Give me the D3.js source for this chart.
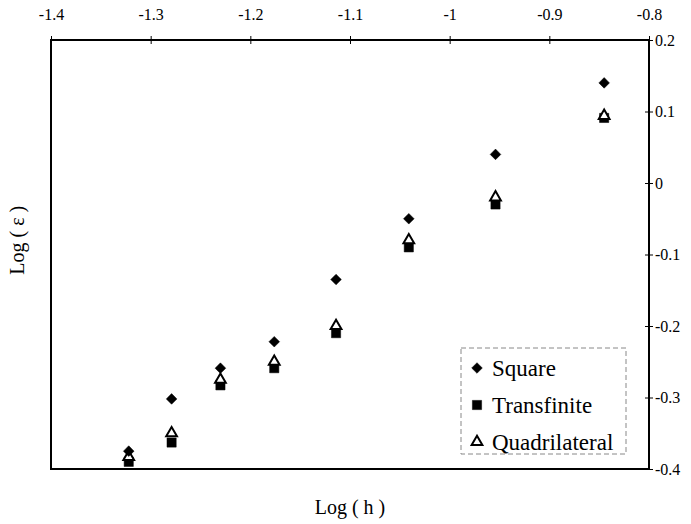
<!DOCTYPE html>
<meta charset="utf-8">
<style>
    body { margin: 0; background: #fff; }
    text { font-family: "Liberation Serif", "Times New Roman", serif; fill: #000; }
</style>
<body>
<div id="chart"></div>
<script src="https://d3js.org/d3.v7.min.js"></script>
<script>
    // log(h) for h = 1/21 ... 1/7
    var logH = [-1.322, -1.279, -1.230, -1.176, -1.114, -1.041, -0.954, -0.845];
    var square = [-0.375, -0.302, -0.259, -0.222, -0.135, -0.050, 0.040, 0.140];
    var transfinite = [-0.390, -0.363, -0.283, -0.259, -0.210, -0.090, -0.030, 0.091];
    var quadrilateral = [-0.383, -0.350, -0.275, -0.250, -0.200, -0.080, -0.020, 0.094];
    var xTicks = [-1.4, -1.3, -1.2, -1.1, -1, -0.9, -0.8];
    var yTicks = [-0.4, -0.3, -0.2, -0.1, 0, 0.1, 0.2];
    var seriesNames = ["Square", "Transfinite", "Quadrilateral"];

    var width = 691,
        height = 524,
        margin = {top: 40, right: 42, bottom: 55, left: 51};
    var serif = "'Liberation Serif', 'Times New Roman', serif";

    var svg = d3.select("#chart").append("svg")
        .attr("width", width)
        .attr("height", height);

    var x = d3.scaleLinear().domain([-1.4, -0.8]).range([margin.left, width - margin.right]);
    var y = d3.scaleLinear().domain([-0.4, 0.2]).range([height - margin.bottom, margin.top]);

    // frame
    svg.append("rect")
        .attr("x", x(-1.4))
        .attr("y", y(0.2))
        .attr("width", x(-0.8) - x(-1.4))
        .attr("height", y(-0.4) - y(0.2))
        .attr("fill", "none")
        .attr("stroke", "#000")
        .attr("stroke-width", 2);

    function fmt(d) { return String(+d.toFixed(1)); }

    // top axis
    var xAxis = svg.append("g")
        .attr("transform", "translate(0," + y(0.2) + ")")
        .call(d3.axisTop(x).tickValues(xTicks).tickSizeOuter(0).tickFormat(fmt));
    xAxis.attr("font-family", serif).attr("font-size", 16);
    xAxis.select(".domain").remove();
    xAxis.selectAll(".tick line").attr("y2", 4).attr("y1", -4).attr("stroke", "#000");
    xAxis.selectAll(".tick text").attr("y", -20);

    // right axis
    var yAxis = svg.append("g")
        .attr("transform", "translate(" + x(-0.8) + ",0)")
        .call(d3.axisRight(y).tickValues(yTicks).tickSizeOuter(0).tickFormat(fmt));
    yAxis.attr("font-family", serif).attr("font-size", 16);
    yAxis.select(".domain").remove();
    yAxis.selectAll(".tick line").attr("x1", -4).attr("x2", 4).attr("stroke", "#000");
    yAxis.selectAll(".tick text").attr("x", 6);

    // axis titles
    svg.append("text")
        .attr("x", (x(-1.4) + x(-0.8)) / 2)
        .attr("y", 514)
        .attr("text-anchor", "middle")
        .attr("font-family", serif)
        .style("font-size", "20px")
        .text("Log ( h )");

    svg.append("text")
        .attr("transform", "translate(24," + y(-0.08) + ") rotate(-90)")
        .attr("text-anchor", "middle")
        .attr("font-family", serif)
        .style("font-size", "20px")
        .text("Log ( \u03b5 )");

    var sym = {
        Square: d3.symbol().type(d3.symbolDiamond2).size(72),
        Transfinite: d3.symbol().type(d3.symbolSquare).size(85),
        Quadrilateral: d3.symbol().type(d3.symbolTriangle).size(50)
    };

    function drawSeries(vals, name, fill) {
        svg.append("g").selectAll("path")
            .data(vals)
            .enter().append("path")
            .attr("d", sym[name])
            .attr("transform", function (d, i) {
                return "translate(" + x(logH[i]) + "," + y(d) + ")";
            })
            .attr("fill", fill)
            .attr("stroke", "#000")
            .attr("stroke-width", name === "Quadrilateral" ? 2 : 0.5);
    }
    drawSeries(transfinite, "Transfinite", "#000");
    drawSeries(quadrilateral, "Quadrilateral", "#fff");
    drawSeries(square, "Square", "#000");

    // legend
    var legend = svg.append("g");
    legend.append("rect")
        .attr("x", 461)
        .attr("y", 348)
        .attr("width", 165)
        .attr("height", 106)
        .attr("fill", "#fff")
        .attr("stroke", "#888")
        .attr("stroke-width", 1)
        .attr("stroke-dasharray", "5,3");

    var item = legend.selectAll(".item")
        .data(seriesNames)
        .enter().append("g")
        .attr("transform", function (d, i) { return "translate(477," + (368 + i * 37) + ")"; });
    item.append("path")
        .attr("d", function (d) { return sym[d](); })
        .attr("fill", function (d) { return d === "Quadrilateral" ? "#fff" : "#000"; })
        .attr("stroke", "#000")
        .attr("stroke-width", function (d) { return d === "Quadrilateral" ? 2 : 0.5; });
    item.append("text")
        .attr("x", 15)
        .attr("dy", "0.35em")
        .attr("font-family", serif)
        .style("font-size", "23px")
        .text(function (d) { return d; });
</script>
</body>
